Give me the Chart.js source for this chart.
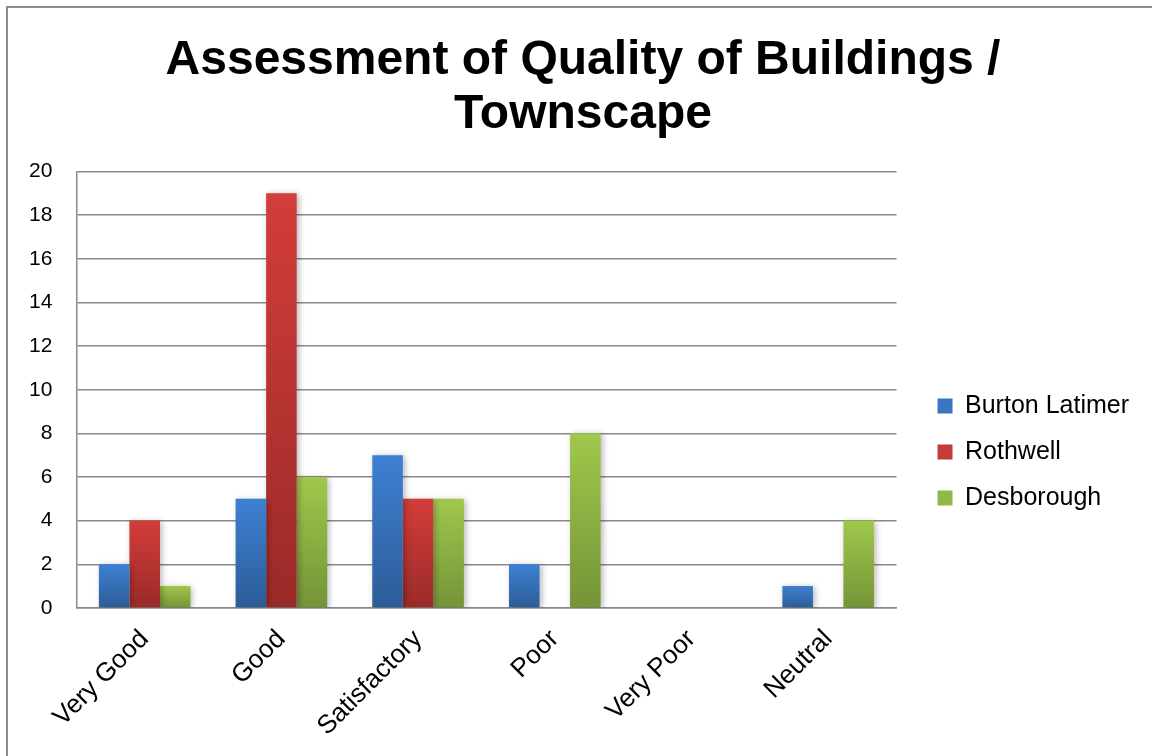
<!DOCTYPE html>
<html>
<head>
<meta charset="utf-8">
<script src="https://cdn.jsdelivr.net/npm/chart.js@4.4.0/dist/chart.umd.min.js"></script>
<style>
  html, body { margin: 0; padding: 0; background: #fff; overflow: hidden; }
  #frame { position: absolute; left: 6px; top: 6px; width: 1160px; height: 760px;
           border-left: 2px solid #8c8c8c; border-top: 2px solid #8c8c8c; }
  #wrap { position: absolute; left: 0; top: 8px; width: 1166px; height: 748px; }
</style>
</head>
<body>
<div id="frame"></div>
<div id="wrap"><canvas id="chart"></canvas></div>
<script>
// data
const categories = ["Very Good", "Good", "Satisfactory", "Poor", "Very Poor", "Neutral"];
const burtonLatimer = [2, 5, 7, 2, 0, 1];
const rothwell = [4, 19, 5, 0, 0, 0];
const desborough = [1, 6, 5, 8, 0, 4];
const seriesNames = ["Burton Latimer", "Rothwell", "Desborough"];

// gradient for each bar, lighter at the top
function barGrad(top, bottom) {
  return function(c) {
    if (c.type !== 'data') return top;
    const chart = c.chart;
    const y = chart.scales.y;
    if (!y) return top;
    const y0 = y.getPixelForValue(c.parsed.y);
    const y1 = y.getPixelForValue(0);
    if (!isFinite(y0) || y0 === y1) return top;
    const g = chart.ctx.createLinearGradient(0, y0, 0, y1);
    g.addColorStop(0, top);
    g.addColorStop(1, bottom);
    return g;
  };
}

const shadowPlugin = {
  id: 'barShadow',
  beforeDatasetsDraw(chart) {
    const ctx = chart.ctx;
    ctx.save();
    ctx.shadowColor = 'rgba(0,0,0,0.28)';
    ctx.shadowBlur = 6;
    ctx.shadowOffsetX = 2;
    ctx.shadowOffsetY = 1;
  },
  afterDatasetsDraw(chart) {
    chart.ctx.restore();
  }
};

// nudge title and legend to where excel put them
const nudgePlugin = {
  id: 'nudge',
  beforeDraw(chart) {
    const t = chart.titleBlock, l = chart.legend;
    if (t) { t.left += 21; t.right += 21; }
    if (l) { l.left += 20; l.right += 20; l.top += 73; l.bottom += 73; }
  }
};

const legendColors = ['#3a75c4', '#c23d3a', '#93b847'];

const ctx = document.getElementById("chart").getContext("2d");
const chart = new Chart(ctx, {
  type: 'bar',
  data: {
    labels: categories,
    datasets: [
      { label: seriesNames[0], data: burtonLatimer, backgroundColor: barGrad('#3e80d2', '#2c5c98') },
      { label: seriesNames[1], data: rothwell, backgroundColor: barGrad('#d33d3a', '#992a28') },
      { label: seriesNames[2], data: desborough, backgroundColor: barGrad('#a0c84b', '#749438') }
    ]
  },
  options: {
    responsive: true,
    maintainAspectRatio: false,
    animation: false,
    categoryPercentage: 0.67,
    barPercentage: 1.0,
    layout: { padding: { left: 5, right: 47, top: 0, bottom: 6 } },
    plugins: {
      title: {
        display: true,
        text: ["Assessment of Quality of Buildings /", "Townscape"],
        color: '#000',
        font: { family: 'Liberation Sans, Arial, sans-serif', size: 48, weight: 'bold', lineHeight: 1.12 },
        padding: { top: 26, bottom: 30 }
      },
      legend: {
        position: 'right',
        labels: {
          boxWidth: 15,
          boxHeight: 15,
          padding: 21,
          color: '#000',
          font: { family: 'Liberation Sans, Arial, sans-serif', size: 25 },
          generateLabels: function(ch) {
            return ch.data.datasets.map(function(ds, i) {
              return { text: ds.label, fillStyle: legendColors[i], strokeStyle: legendColors[i], lineWidth: 0, datasetIndex: i };
            });
          }
        }
      },
      tooltip: { enabled: false }
    },
    scales: {
      x: {
        grid: { display: false },
        border: { display: true, color: '#8a8a8a', width: 1.5 },
        ticks: {
          color: '#000',
          minRotation: 45,
          maxRotation: 45,
          padding: 8,
          font: { family: 'Liberation Sans, Arial, sans-serif', size: 26 }
        }
      },
      y: {
        min: 0,
        max: 20,
        grid: { color: '#8a8a8a', lineWidth: 1.5, drawTicks: false },
        border: { display: true, color: '#8a8a8a', width: 1.5 },
        ticks: {
          stepSize: 2,
          color: '#000',
          padding: 24,
          font: { family: 'Liberation Sans, Arial, sans-serif', size: 21 }
        }
      }
    }
  },
  plugins: [shadowPlugin, nudgePlugin]
});
</script>
</body>
</html>
